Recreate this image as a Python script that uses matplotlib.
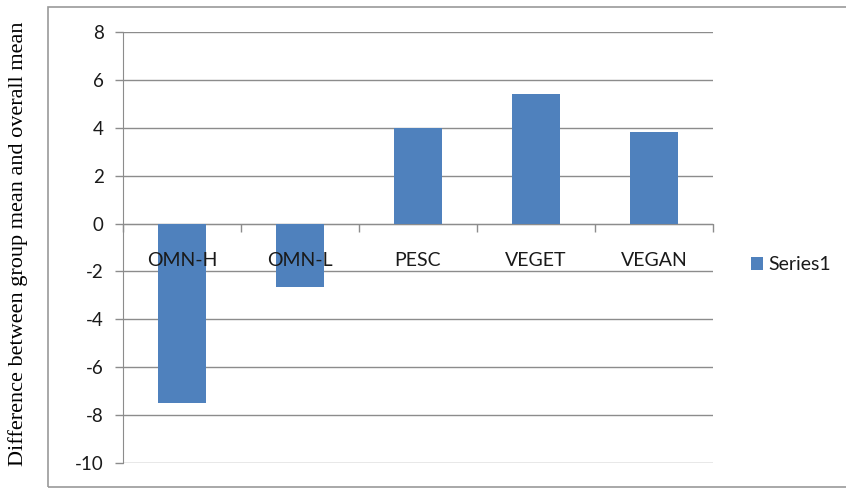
import numpy as np
import matplotlib.pyplot as plt
from matplotlib.patches import Rectangle

categories = ["OMN-H", "OMN-L", "PESC", "VEGET", "VEGAN"]
values = [-7.5, -2.67, 4.0, 5.43, 3.84]
yticks = [-10, -8, -6, -4, -2, 0, 2, 4, 6, 8]

bar_color = "#4F81BD"
grid_color = "#8C8C8C"
text_color = "#1A1A1A"

fig = plt.figure(figsize=(8.46, 4.88), dpi=100)

# outer chart border (open on the right, like the cropped original)
fig.patches.append(Rectangle((48 / 846, 1 / 488), 1.0, 480 / 488, transform=fig.transFigure,
                             fill=False, edgecolor="#9A9A9A", linewidth=1.2, clip_on=False))

ax = fig.add_axes([123 / 846, 1 - 463 / 488, (713 - 123) / 846, (463 - 32) / 488])

x = np.arange(len(categories))
ax.bar(x, values, width=0.4, color=bar_color, label="Series1", zorder=3)

ax.set_xlim(-0.5, len(categories) - 0.5)
ax.set_ylim(-10, 8)
ax.set_yticks(yticks)
ax.set_yticklabels([str(v) for v in yticks], fontsize=13.5, color=text_color, family="Lato")
ax.tick_params(axis="y", length=6, width=1, color=grid_color, pad=8)
ax.yaxis.grid(True, color=grid_color, linewidth=1, zorder=0)

# category axis sits on the zero line, ticks at category boundaries
ax.spines["bottom"].set_position(("data", 0))
ax.spines["bottom"].set_color(grid_color)
ax.spines["bottom"].set_zorder(2)
ax.spines["left"].set_color(grid_color)
ax.spines["top"].set_visible(False)
ax.spines["right"].set_visible(False)
ax.set_xticks(np.arange(-0.5, len(categories), 1.0))
ax.set_xticklabels([])
ax.tick_params(axis="x", which="major", length=6, width=1, color=grid_color, direction="out")

# category labels drawn over the bars
for xi, name in zip(x, categories):
    ax.text(xi, -1.55, name, ha="center", va="center", fontsize=14, color=text_color,
            family="Lato", zorder=5)

fig.text(18 / 846, 0.5, "Difference between group mean and overall mean", rotation=90,
         ha="center", va="center", fontsize=16, family="Liberation Serif", color="#000000")

leg = ax.legend(loc="center left", bbox_to_anchor=(1.035, 0.46), frameon=False,
                prop={"family": "Lato", "size": 14}, handlelength=0.6, handleheight=0.6,
                handletextpad=0.3)
for t in leg.get_texts():
    t.set_color(text_color)

plt.savefig("out.png", dpi=100)
